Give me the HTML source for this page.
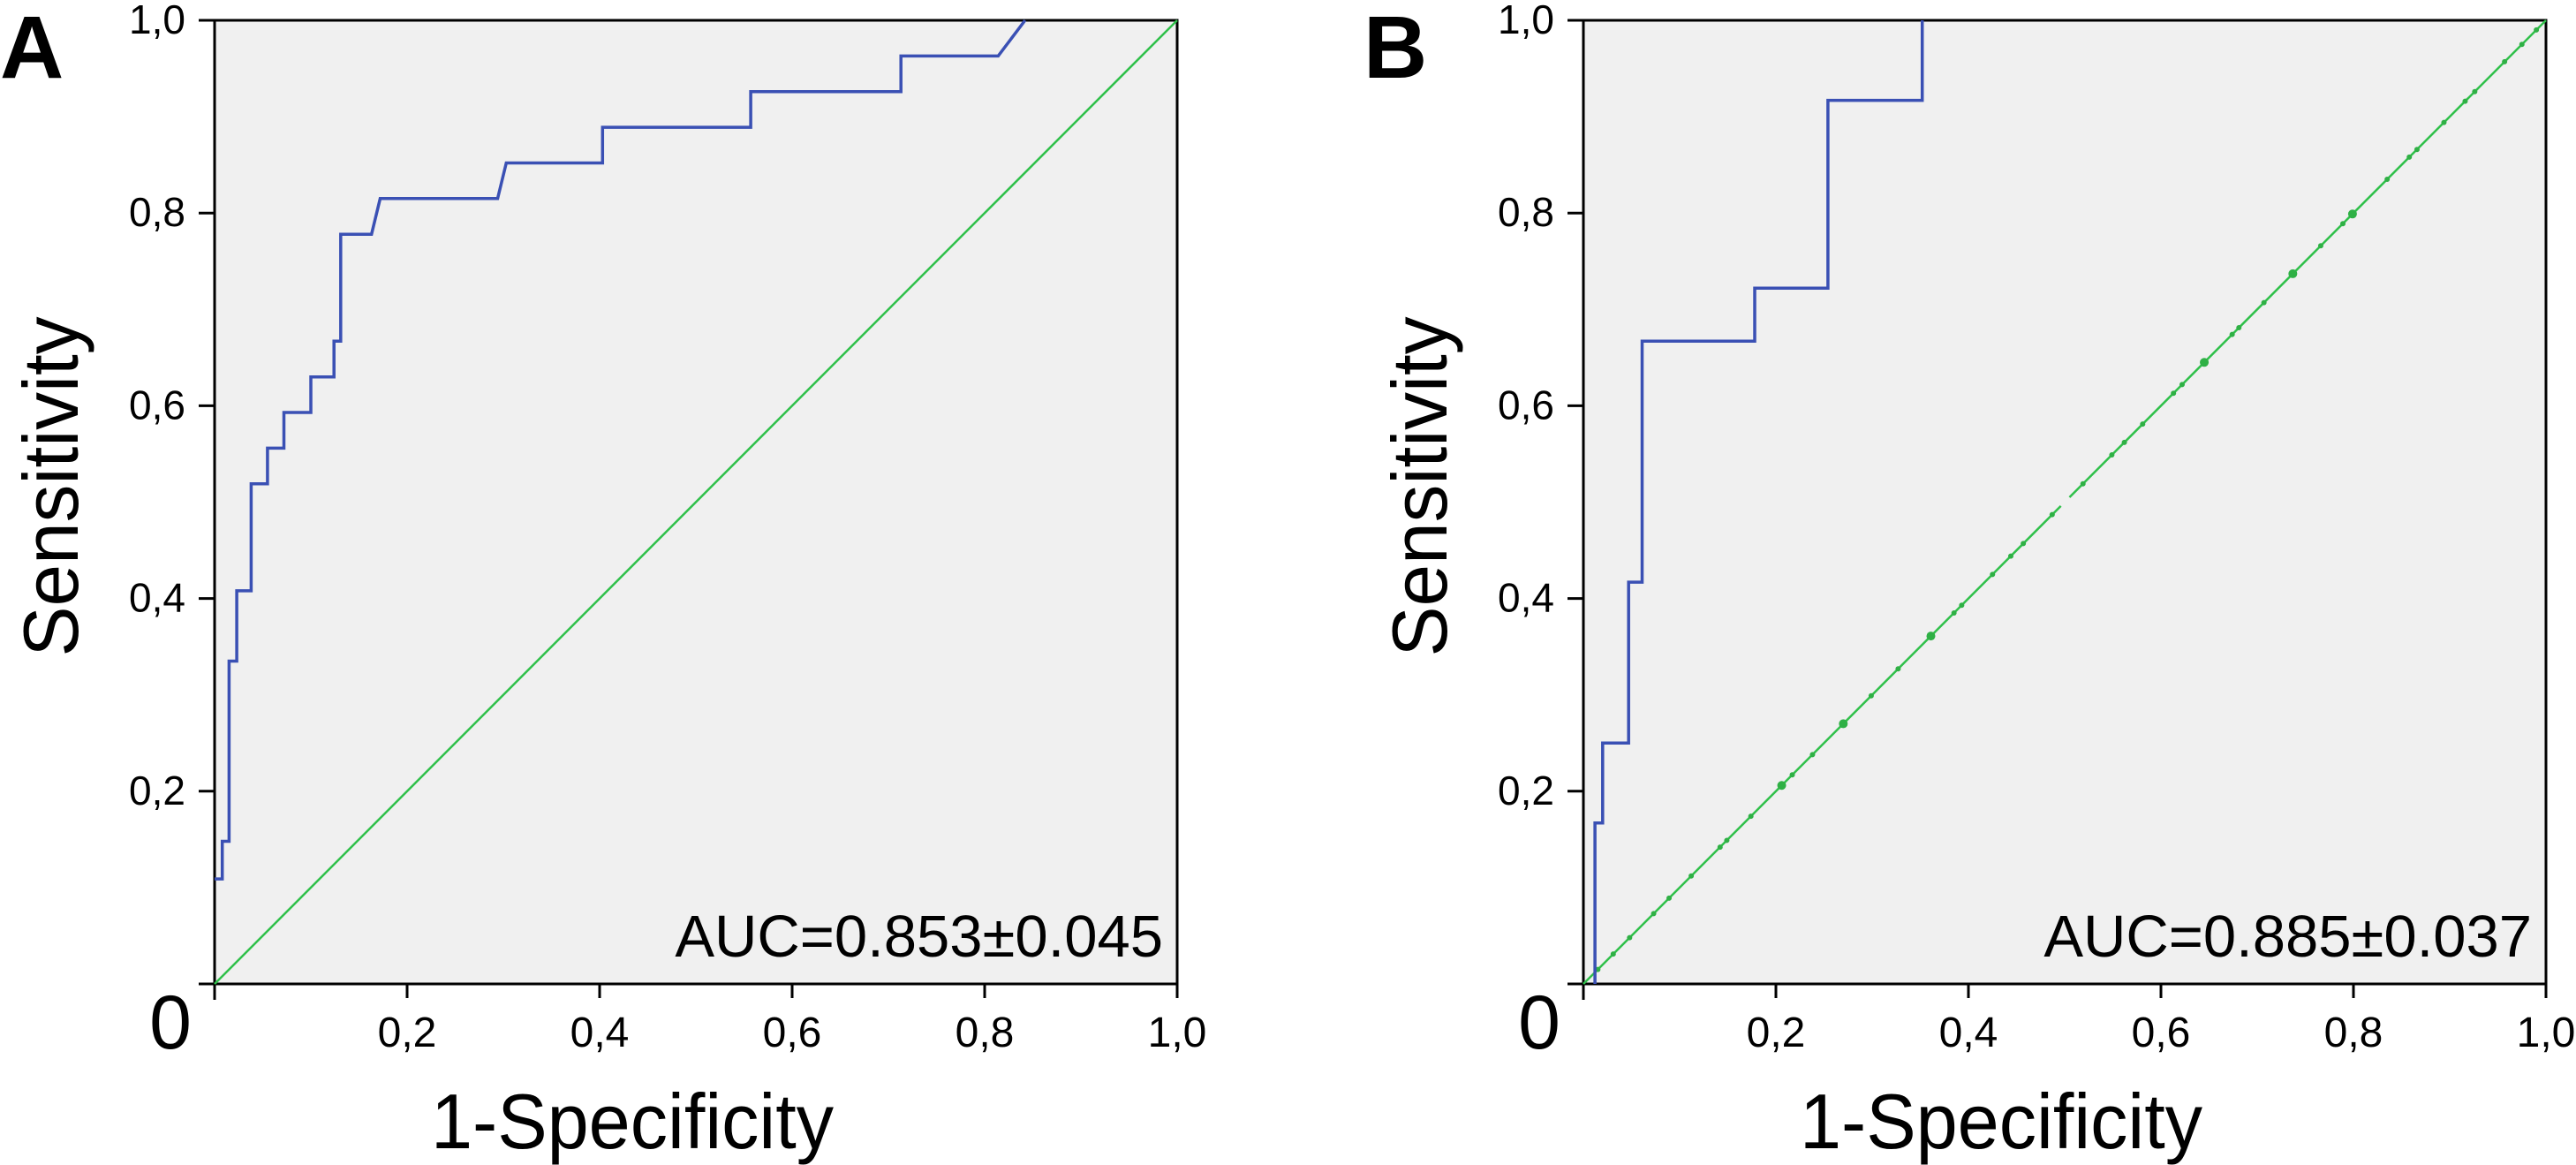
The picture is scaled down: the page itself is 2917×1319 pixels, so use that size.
<!DOCTYPE html>
<html><head><meta charset="utf-8"><style>
html,body{margin:0;padding:0;background:#fff;}
svg{display:block;}
text{font-family:"Liberation Sans",Arial,sans-serif;fill:#000;}
</style></head><body>
<svg id="fig" width="2917" height="1319" viewBox="0 0 2917 1319" xmlns="http://www.w3.org/2000/svg"></svg>
<script>
// ---- data ----
const tickValues = [0.2, 0.4, 0.6, 0.8, 1.0];
const tickLabels = ["0,2", "0,4", "0,6", "0,8", "1,0"];
const rocAx = [0,0.008,0.008,0.015,0.015,0.023,0.023,0.038,0.038,0.055,0.055,0.072,0.072,0.100,0.100,0.124,0.124,0.131,0.131,0.163,0.172,0.294,0.303,0.403,0.403,0.557,0.557,0.713,0.713,0.814,0.842];
const rocAy = [0.109,0.109,0.148,0.148,0.335,0.335,0.408,0.408,0.519,0.519,0.556,0.556,0.593,0.593,0.630,0.630,0.667,0.667,0.778,0.778,0.815,0.815,0.852,0.852,0.889,0.889,0.926,0.926,0.963,0.963,1.0];
const rocBx = [0.012,0.012,0.020,0.020,0.047,0.047,0.061,0.061,0.178,0.178,0.254,0.254,0.352,0.352];
const rocBy = [0,0.167,0.167,0.25,0.25,0.417,0.417,0.667,0.667,0.722,0.722,0.917,0.917,1.0];
const refMarkersB = [0.015,0.031,0.048,0.073,0.089,0.112,0.142,0.149,0.174,0.206,0.217,0.238,0.270,0.299,0.327,0.361,0.385,0.393,0.425,0.444,0.457,0.487,0.519,0.549,0.562,0.581,0.613,0.622,0.645,0.674,0.681,0.707,0.737,0.766,0.789,0.799,0.835,0.858,0.866,0.894,0.916,0.926,0.957,0.975,0.990];
const bigMarkersB = [0.206,0.270,0.361,0.645,0.737,0.799];
const aucLabels = ["AUC=0.853\u00b10.045", "AUC=0.885\u00b10.037"];

const NS = "http://www.w3.org/2000/svg";
const svg = document.getElementById('fig');
function mk(tag, attrs, parent){
  const e = document.createElementNS(NS, tag);
  for (const k in attrs) e.setAttribute(k, attrs[k]);
  (parent||svg).appendChild(e);
  return e;
}
const TOP = 23, BOTTOM = 1114, W = 1090, H = 1091;

function panel(left, letter, letterX, rx, ry, aucText, isB){
  const g = mk('g', {});
  
  
  const sx = v => left + v * W;
  const sy = v => BOTTOM - v * H;
  const bg = mk('rect', {x:left, y:TOP, width:W, height:H, fill:'#f0f0f0', stroke:'#000', 'stroke-width':3}, g);
  
  
  // ticks
  tickValues.forEach((v, i) => {
    const xt = mk('line', {x1:sx(v), x2:sx(v), y1:BOTTOM, y2:BOTTOM+16, stroke:'#000', 'stroke-width':3}, g);
    
    
    const xl = mk('text', {x:sx(v), y:1185, 'font-size':48, 'text-anchor':'middle'}, g);
    xl.textContent = tickLabels[i];
    
    
    const yt = mk('line', {x1:left-18, x2:left, y1:sy(v), y2:sy(v), stroke:'#000', 'stroke-width':3}, g);
    
    
    const yl = mk('text', {x:left-33, y:sy(v)+15, 'font-size':46, 'text-anchor':'end'}, g);
    yl.textContent = tickLabels[i];
    
    
  });
  const ot = mk('line', {x1:left, x2:left, y1:BOTTOM, y2:BOTTOM+18, stroke:'#000', 'stroke-width':3}, g);
  
  
  const ol = mk('line', {x1:left-18, x2:left, y1:BOTTOM, y2:BOTTOM, stroke:'#000', 'stroke-width':3}, g);
  
  
  const zero = mk('text', {x:left-50, y:1187, 'font-size':86, 'text-anchor':'middle'}, g);
  zero.textContent = '0';
  
  
  // reference diagonal
  if (!isB){
    const d = mk('line', {x1:sx(0), y1:sy(0), x2:sx(1), y2:sy(1), stroke:'#2fc04a', 'stroke-width':2.5}, g);
    
    
  } else {
    const d1 = mk('line', {x1:sx(0), y1:sy(0), x2:sx(0.496), y2:sy(0.496), stroke:'#2fc04a', 'stroke-width':2.5}, g);
    
    
    const d2 = mk('line', {x1:sx(0.505), y1:sy(0.505), x2:sx(1), y2:sy(1), stroke:'#2fc04a', 'stroke-width':2.5}, g);
    
    
    refMarkersB.forEach(v => {
      const c = mk('circle', {cx:sx(v), cy:sy(v), r:3, fill:'#2fb045'}, g);
      
      
    });
    bigMarkersB.forEach(v => {
      const c = mk('circle', {cx:sx(v), cy:sy(v), r:5, fill:'#2fb045'}, g);
      
      
    });
  }
  // ROC curve
  const pts = rx.map((v, i) => sx(v).toFixed(1) + ',' + sy(ry[i]).toFixed(1)).join(' ');
  const roc = mk('polyline', {points:pts, fill:'none', stroke:'#3a50b4', 'stroke-width':3.5}, g);
  
  
  // AUC
  const auc = mk('text', {x:left+W-16, y:1083, 'font-size':67, 'text-anchor':'end'}, g);
  auc.textContent = aucText;
  
  
  // axis titles
  const xt = mk('text', {x:left+473, y:1300, 'font-size':88, 'text-anchor':'middle', textLength:456, lengthAdjust:'spacingAndGlyphs'}, g);
  xt.textContent = '1-Specificity';
  
  
  const yx = left - 155, yy = 551;
  const yt = mk('text', {x:yx, y:yy, 'font-size':88, 'text-anchor':'middle', textLength:385, lengthAdjust:'spacingAndGlyphs', transform:'rotate(-90 '+yx+' '+yy+')'}, g);
  yt.textContent = 'Sensitivity';
  
  
  // panel letter
  const lt = mk('text', {x:letterX, y:88, 'font-size':100, 'font-weight':'bold'}, g);
  lt.textContent = letter;
  
  
}
panel(243, 'A', 0, rocAx, rocAy, aucLabels[0], false);
panel(1793, 'B', 1544, rocBx, rocBy, aucLabels[1], true);
</script>
</body></html>
